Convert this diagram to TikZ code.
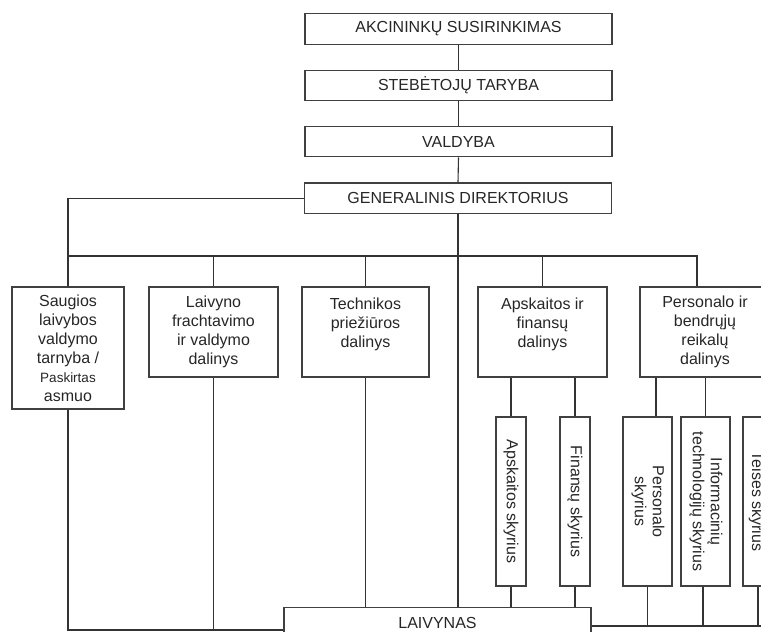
\documentclass[tikz,border=0pt]{standalone}
\usepackage{fontspec}
\setmainfont{Liberation Sans}
\usepackage{graphicx}
\begin{document}
\begin{tikzpicture}[x=1pt,y=-1pt,
  ln/.style={draw=black!80, line width=1.1pt},
  box/.style={draw=black!75, line width=1.3pt, align=center, inner sep=0pt, text=black!85, font=\fontsize{16}{19}\selectfont},
  topbox/.style={box, minimum width=307pt, minimum height=30.5pt},
  midbox/.style={box, minimum height=90pt},
  subbox/.style={draw=black!75, line width=1.3pt, inner sep=0pt, text=black!85, font=\fontsize{16}{18}\selectfont, minimum height=169pt},
  vtxt/.style={rotate=-90, inner sep=0pt, text=black!85, font=\fontsize{16}{18}\selectfont}
]
\useasboundingbox (0,0) rectangle (761,632);
\clip (0,0) rectangle (761,632);
% top chain
\node[topbox] (ak) at (458.5,29) {AKCININKŲ SUSIRINKIMAS};
\node[topbox] (st) at (458.5,85.5) {STEBĖTOJŲ TARYBA};
\node[topbox] (va) at (458.5,141.5) {VALDYBA};
\node[topbox] (gd) at (458,198.3) {GENERALINIS DIREKTORIUS};
% departments
\node[midbox, minimum width=112pt, minimum height=122pt] (b1) at (68,348) {Saugios\\laivybos\\valdymo\\tarnyba /\\\fontsize{13.5}{17}\selectfont Paskirtas\\asmuo};
\node[midbox, minimum width=129pt] (b2) at (213.5,332) {Laivyno\\frachtavimo\\ir valdymo\\dalinys};
\node[midbox, minimum width=127pt] (b3) at (365.5,332) {Technikos\\priežiūros\\dalinys\\\mbox{}};
\node[midbox, minimum width=129pt] (b4) at (542.5,332) {Apskaitos ir\\finansų\\dalinys\\\mbox{}};
\node[midbox, minimum width=130pt] (b5) at (705,332) {Personalo ir\\bendrųjų\\reikalų\\dalinys};
% sub-units
\node[subbox, minimum width=30pt] (aps) at (511,501.5) {\rotatebox{-90}{Apskaitos skyrius}};
\node[subbox, minimum width=30pt] (fin) at (575,501.5) {\rotatebox{-90}{Finansų skyrius}};
\node[subbox, minimum width=49pt] (per) at (647.5,501.5) {\rotatebox{-90}{\begin{tabular}{@{}c@{}}Personalo\\skyrius\end{tabular}}};
\node[subbox, minimum width=49pt] (inf) at (705.5,501.5) {\rotatebox{-90}{\begin{tabular}{@{}c@{}}Informacinių\\technologijų skyrius\end{tabular}}};
\node[subbox, minimum width=50pt] (tei) at (768,501.5) {};
\node[vtxt, anchor=base] (teit) at (752,501.5) {Teisės skyrius};
% fleet
\node[topbox] (lai) at (437.5,623) {LAIVYNAS};
% connectors, top
\draw[ln] (ak.south) -- (st.north);
\draw[ln] (st.south) -- (va.north);
\draw[ln] (va.south) -- (gd.north);
\draw[ln] (gd.south) -- (gd.south |- lai.north);
\coordinate (bus) at (0,256);
\coordinate (b5top) at ([xshift=-8pt]b5.north);
\draw[ln] (gd.west) -| (b1.north);
\draw[ln] (b1.north |- bus) -- (b5top |- bus) -- (b5top);
\foreach \n in {b2,b3,b4} \draw[ln] (\n.north |- bus) -- (\n.north);
% sub-unit links
\draw[ln] (aps.north |- b4.south) -- (aps.north);
\draw[ln] (fin.north |- b4.south) -- (fin.north);
\coordinate (pertop) at ([xshift=8.5pt]per.north);
\draw[ln] (pertop |- b5.south) -- (pertop);
\draw[ln] (inf.north |- b5.south) -- (inf.north);
\draw[ln] (tei.north |- b5.south) -- (tei.north);
% connectors, bottom
\coordinate (laiL) at ([yshift=-7pt]lai.west);
\coordinate (laiR) at ([yshift=-3pt]lai.east);
\draw[ln] (b1.south) |- (laiL);
\draw[ln] (b2.south) -- (b2.south |- laiL);
\draw[ln] (b3.south) -- (b3.south |- lai.north);
\draw[ln] (aps.south) -- (aps.south |- lai.north);
\draw[ln] (fin.south) -- (fin.south |- lai.north);
\coordinate (infbot) at ([xshift=-2.5pt]inf.south);
\coordinate (teibot) at ([xshift=-10pt]tei.south);
\draw[ln] (laiR) -- (tei.south |- laiR);
\draw[ln] (per.south) -- (per.south |- laiR);
\draw[ln] (infbot) -- (infbot |- laiR);
\draw[ln] (teibot) -- (teibot |- laiR);
\end{tikzpicture}
\end{document}
